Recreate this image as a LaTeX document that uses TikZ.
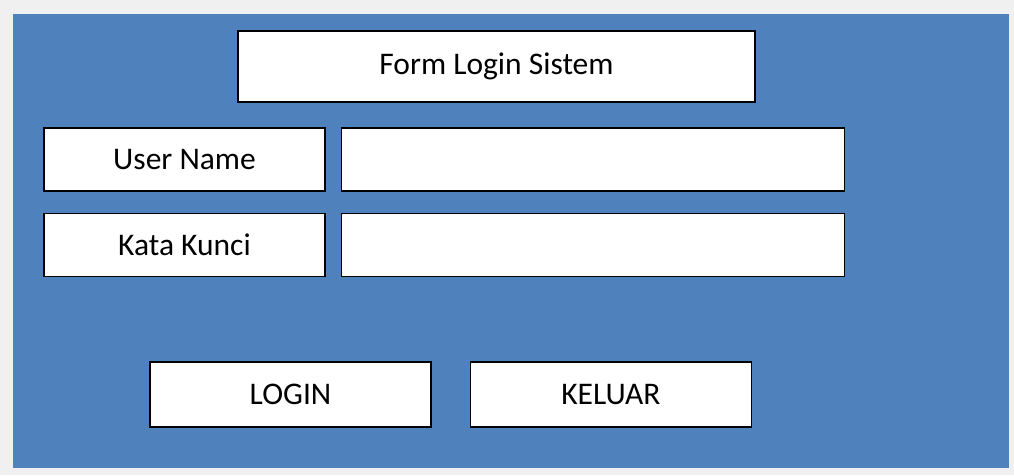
\documentclass[tikz,border=0pt]{standalone}
\usepackage{fontspec}
\setmainfont{Carlito}
\usetikzlibrary{positioning}

\definecolor{formblue}{HTML}{4F81BD}
\definecolor{pagegray}{HTML}{F0F0F0}

\begin{document}
\begin{tikzpicture}[x=1pt, y=-1pt,
  box/.style={draw=black, fill=white, line width=1.4pt, font=\fontsize{31.5}{36}\selectfont, inner sep=0pt},
  labelbox/.style={box, minimum width=281pt, minimum height=63pt},
  fieldbox/.style={box, minimum width=503pt, minimum height=63pt},
  buttonbox/.style={box, minimum width=281pt, minimum height=65pt}]
  % background
  \fill[pagegray] (0,0) rectangle (1014,475);
  \fill[formblue] (13,14) rectangle (1009,468);

  % title
  \node[box, minimum width=517pt, minimum height=71pt](FormTitle) at (496.5,66.5){Form Login Sistem};

  % user name
  \node[labelbox](UserNameLabel) at (184.5,159.5){User Name};
  \node[fieldbox, right=15pt of UserNameLabel](UserNameField){};

  % kata kunci
  \node[labelbox, below=21pt of UserNameLabel](KataKunciLabel){Kata Kunci};
  \node[fieldbox, right=15pt of KataKunciLabel](KataKunciField){};

  % buttons
  \node[buttonbox](LoginButton) at (290.5,394.5){LOGIN};
  \node[buttonbox, right=38pt of LoginButton](KeluarButton){KELUAR};
\end{tikzpicture}
\end{document}
